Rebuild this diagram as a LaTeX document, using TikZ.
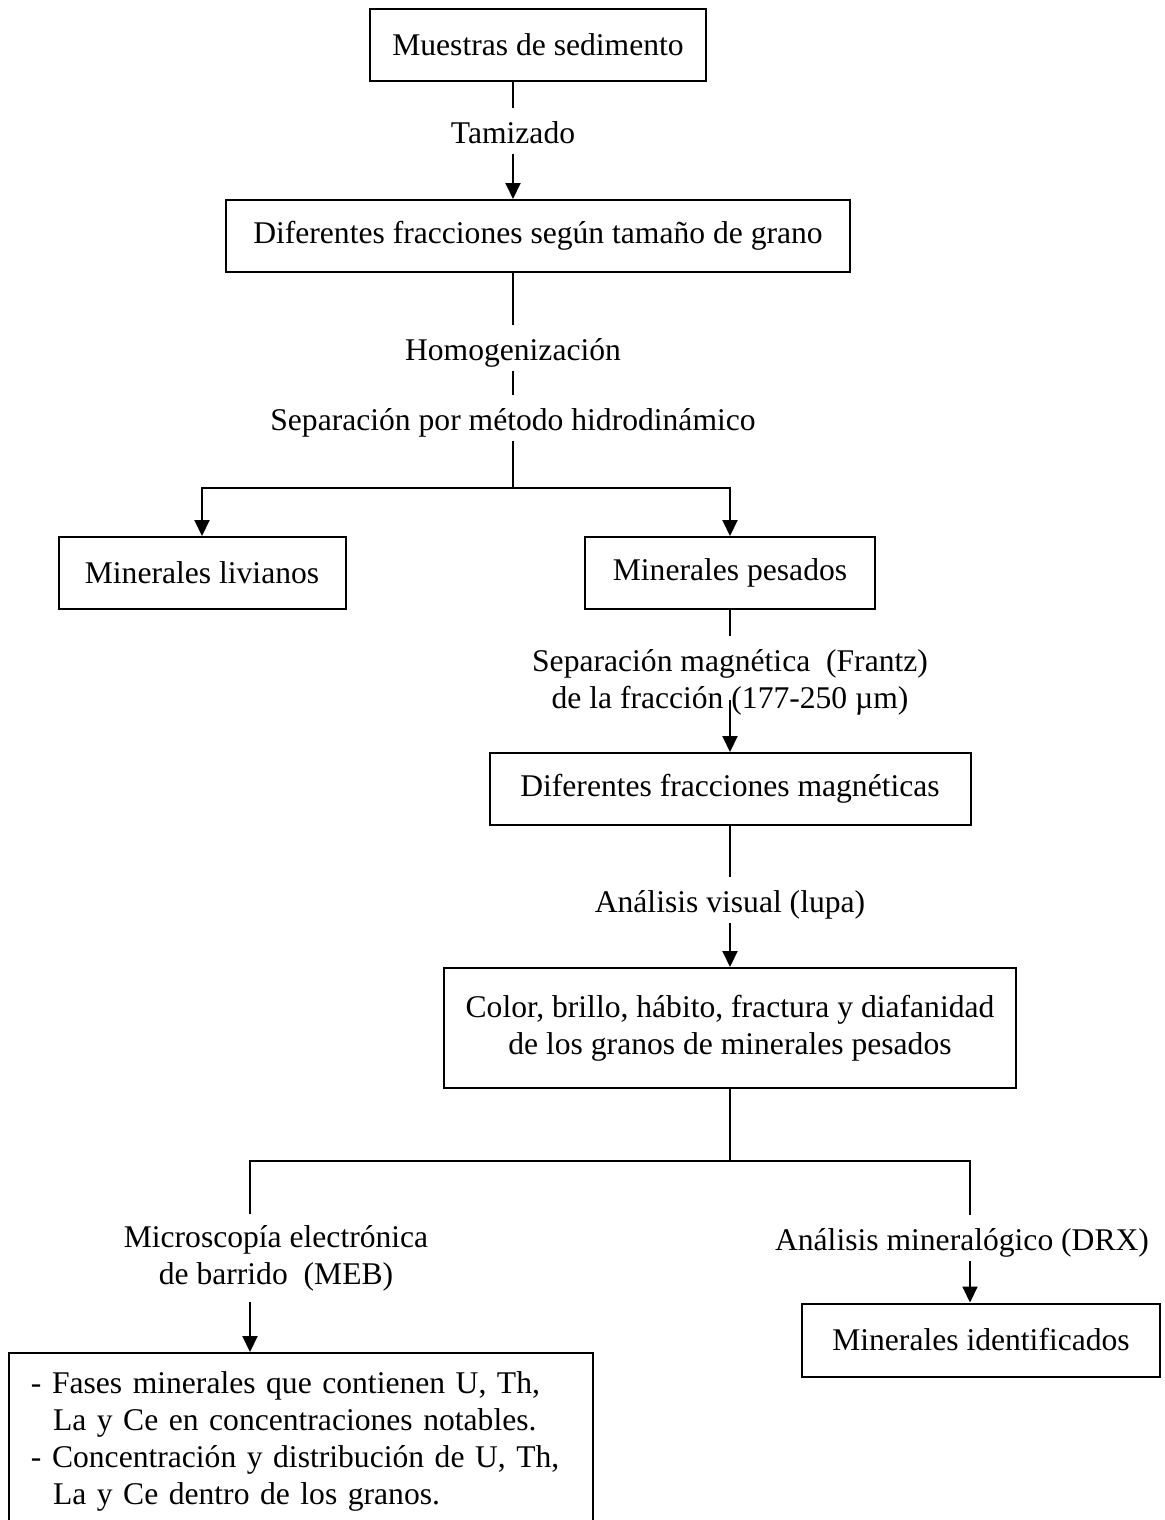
\documentclass[tikz,border=0pt]{standalone}
\usepackage{fontspec}
\setmainfont{Liberation Serif}
\usepackage{tikz}
\usetikzlibrary{arrows.meta, positioning, calc}

\begin{document}
\begin{tikzpicture}[
  x=0.5pt, y=-0.5pt,
  line width=1pt,
  font=\fontsize{15.8}{18.5}\selectfont,
  box/.style={draw, line width=1pt, inner sep=0pt, minimum height=36pt},
  lbl/.style={anchor=base, inner ysep=2pt, text height=15pt, text depth=3pt},
  arr/.style={-{Triangle[length=8pt, width=7.5pt]}},
]
\useasboundingbox (0,0) rectangle (1164,1520);
\clip (0,0) rectangle (1164,1520);
\node[box, minimum width=168pt] (muestras) at (538,45) {Muestras de sedimento};
\node[lbl] (tamiz) at (513,143) {Tamizado};
\node[box, minimum width=312pt] (fracc) at (538,236) {Diferentes fracciones según tamaño de grano};
\node[lbl] (homog) at (513,360) {Homogenización};
\node[lbl] (hidro) at (513,430) {Separación por método hidrodinámico};
\node[box, minimum width=143.5pt] (liv) at (202,573) {Minerales livianos};
\node[box, minimum width=145pt] (pes) at (730,573) {Minerales pesados};
\node[align=center, inner ysep=6pt] (frantz) at (730,682) {Separación magnética~ (Frantz)\\de la fracción (177-250 µm)};
\node[box, minimum width=240.5pt] (magn) at (730,789) {Diferentes fracciones magnéticas};
\node[lbl] (lupa) at (730,912) {Análisis visual (lupa)};
\node[box, align=center, minimum width=286pt, minimum height=60pt] (color) at (730,1028) {Color, brillo, hábito, fractura y diafanidad\\de los granos de minerales pesados};
\node[align=center, inner ysep=5pt] (meb) at (276,1258) {Microscopía electrónica\\de barrido~ (MEB)};
\node[lbl] (drx) at (962,1250) {Análisis mineralógico (DRX)};
\node[box, minimum width=179pt, minimum height=36.5pt] (ident) at (981,1340) {Minerales identificados};
\node[box, anchor=north west, align=left, text width=270pt, inner xsep=11pt, inner ysep=9.5pt] (fases) at (8,1352)
  {- Fases minerales que contienen U, Th,\\\hspace*{11pt}La y Ce en concentraciones notables.\\- Concentración y distribución de U, Th,\\\hspace*{11pt}La y Ce dentro de los granos.};

\coordinate (sp1) at (513,488);
\coordinate (sp2) at (730,1161);
\coordinate (jl) at (250,1161);
\coordinate (jr) at (970,1161);

\draw (tamiz |- muestras.south) -- (tamiz);
\draw[arr] (tamiz) -- (tamiz |- fracc.north);
\draw (homog |- fracc.south) -- (homog);
\draw (homog) -- (hidro);
\draw (hidro) -- (sp1);
\draw[arr] (sp1) -| (liv);
\draw[arr] (sp1) -| (pes);
\draw (pes) -- (frantz);
\draw[arr] ([yshift=-9pt]frantz.center) -- (magn);
\draw (magn) -- (lupa);
\draw[arr] (lupa) -- (color);
\draw (color) -- (sp2);
\draw (jl |- meb.north) -- (jl) -- (jr) -- (jr |- drx.north);
\draw[arr] (jl |- meb.south) -- (jl |- fases.north);
\draw[arr] (jr |- drx.south) -- (jr |- ident.north);
\end{tikzpicture}
\end{document}
